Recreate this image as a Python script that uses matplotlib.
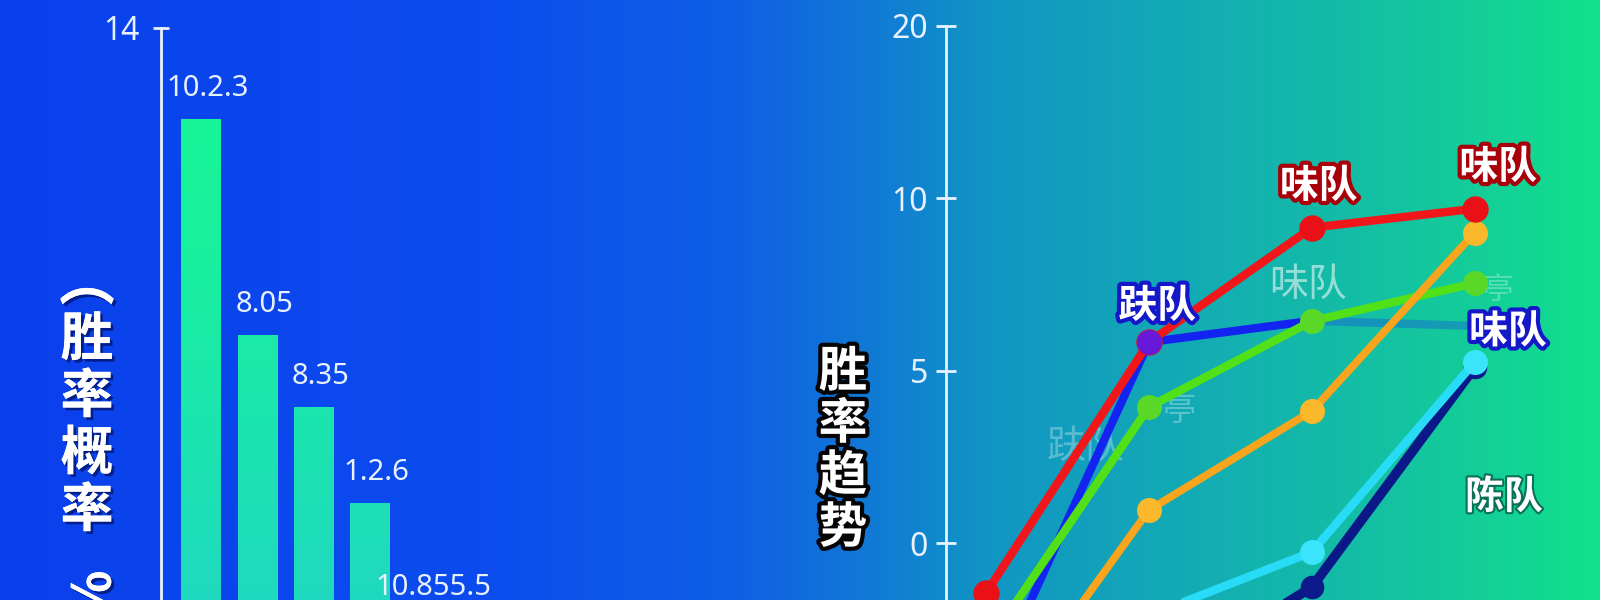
import numpy as np
import matplotlib
matplotlib.use("Agg")
import matplotlib.pyplot as plt
import matplotlib.patheffects as pe
from matplotlib.colors import LinearSegmentedColormap

plt.rcParams['font.family'] = ['Noto Sans CJK SC', 'DejaVu Sans']

# ---- data: left panel (bars) ----
bar_values = [12.1, 7.6, 6.1, 4.1, 1.7]
bar_labels = ['10.2.3', '8.05', '8.35', '1.2.6', '10.855.5']
left_ticks = [14]
left_title = ['胜', '率', '概', '率']

# ---- data: right panel (lines) ----
rounds = [0, 1, 2, 3]
red = [-1.45, 5.83, 9.15, 9.7]
blue = [-4.5, 5.83, 6.45, 6.3]
green = [-3.0, 3.95, 6.44, 7.54]
orange = [-5.6, 0.96, 3.83, 9.0]
cyan = [-5.5, -2.1, -0.26, 5.25]
navy = [-5.8, -4.2, -1.28, 5.1]
right_ticks = [0, 5, 10, 15]
right_ticklabels = ['0', '5', '10', '20']
right_title = ['胜', '率', '趋', '势']

W, H = 1600, 600
fig = plt.figure(figsize=(W / 100, H / 100), dpi=100)

# background gradient
bg = fig.add_axes([0, 0, 1, 1], zorder=-10)
bg_cmap = LinearSegmentedColormap.from_list('bg', [
    (0.0, '#0a40ec'), (0.30, '#0c4cee'), (0.46, '#1060e6'),
    (0.54, '#1078d6'), (0.62, '#1196c4'), (0.75, '#13acb4'),
    (0.88, '#14c4a0'), (1.0, '#12e08c')])
bg.imshow(np.linspace(0, 1, 512).reshape(1, -1), cmap=bg_cmap,
          aspect='auto', extent=[0, 1, 0, 1])
bg.set_axis_off()

white = '#e8f2ff'

# ================= left: bars =================
ax1 = fig.add_axes([161 / W, (H - 700) / H, (760 - 161) / W, (700 - 27.5) / H])
ax1.set_facecolor('none')
x1 = np.arange(len(bar_values))
bars = ax1.bar(x1, bar_values, width=0.7, color='#1ce8a8', zorder=2)
bar_cmap = LinearSegmentedColormap.from_list('bar', ['#22d2c8', '#1de2b4', '#18f09e', '#16f892'])
for b in bars:
    im = ax1.imshow(np.linspace(0, 1, 256).reshape(-1, 1), cmap=bar_cmap,
                    extent=[b.get_x(), b.get_x() + b.get_width(), 0, 14],
                    origin='lower', aspect='auto', zorder=3)
    im.set_clip_path(b)
for i, (v, lab) in enumerate(zip(bar_values, bar_labels)):
    ax1.annotate(lab, xy=(i, v), xytext=(5, 22), textcoords='offset points',
                 ha='center', va='center', color=white, fontsize=21,
                 family=['Noto Sans', 'DejaVu Sans'])
ax1.set_xlim(-0.71, 9.93)
ax1.set_ylim(0, 14)
ax1.set_yticks(left_ticks)
ax1.set_xticks([])
for s in ['top', 'right', 'bottom']:
    ax1.spines[s].set_visible(False)
ax1.spines['left'].set_color(white)
ax1.spines['left'].set_linewidth(2)
ax1.tick_params(axis='y', direction='inout', length=11, width=2, colors=white,
                labelsize=23, pad=10)
for t in ax1.get_yticklabels():
    t.set_family(['Noto Sans', 'DejaVu Sans'])

shadow = [pe.withSimplePatchShadow(offset=(2, -2), shadow_rgbFace='#021060', alpha=0.7),
          pe.Normal()]
fig.text(87 / W, 1 - 284 / H, '︵', ha='center', va='center',
         color='white', fontsize=40, fontweight='bold', path_effects=shadow)
for k, ch in enumerate(left_title):
    fig.text(87 / W, 1 - (340 + 57 * k) / H, ch, ha='center', va='center',
             color='white', fontsize=38, fontweight='bold', path_effects=shadow)
fig.text(87 / W, 1 - 596 / H, '%', rotation=270, ha='center', va='center',
         color='white', fontsize=38, fontweight='bold', path_effects=shadow)

# ================= right: lines =================
ax2 = fig.add_axes([946 / W, (H - 750) / H, (W - 946) / W, (750 - 26) / H])
ax2.set_facecolor('none')

ax2.plot(rounds[2:], blue[2:], color='#1a2ef0', lw=6, alpha=0.3, zorder=2,
         solid_capstyle='round')
ax2.plot(rounds[:3], blue[:3], color='#1424f0', lw=6, zorder=3)
ax2.plot(rounds, navy, color='#0a1888', lw=7, marker='o', ms=17,
         markerfacecolor='#0c1a8c', markeredgewidth=0, zorder=4)
ax2.plot(rounds, cyan, color='#28dcf8', lw=6, marker='o', ms=18,
         markerfacecolor='#3ae4fa', markeredgewidth=0, zorder=5)
ax2.plot(rounds, green, color='#52e018', lw=6, marker='o', ms=18,
         markerfacecolor='#5ad828', markeredgewidth=0, zorder=6)
ax2.plot(rounds, orange, color='#f8a41c', lw=5.5, marker='o', ms=18,
         markerfacecolor='#fbb82a', markeredgewidth=0, zorder=7)
ax2.plot(rounds, red, color='#f0161a', lw=6, marker='o', ms=19,
         markerfacecolor='#ea1018', markeredgewidth=0, zorder=8)
ax2.plot(rounds[1], blue[1], marker='o', ms=18, color='#6818d8',
         markeredgewidth=0, zorder=9)

red_fx = [pe.withStroke(linewidth=6, foreground='#a8000a')]
blue_fx = [pe.withStroke(linewidth=6, foreground='#1418c8')]
white_fx = [pe.withStroke(linewidth=3, foreground='#0a7058')]
ax2.annotate('味队', xy=(rounds[2], red[2]), xytext=(5, 30), textcoords='offset points',
             ha='center', va='center', color='white', fontsize=28, fontweight='bold',
             path_effects=red_fx, zorder=10)
ax2.annotate('味队', xy=(rounds[3], red[3]), xytext=(17, 30), textcoords='offset points',
             ha='center', va='center', color='white', fontsize=28, fontweight='bold',
             path_effects=red_fx, zorder=10)
ax2.annotate('趺队', xy=(rounds[1], blue[1]), xytext=(6, 26), textcoords='offset points',
             ha='center', va='center', color='white', fontsize=28, fontweight='bold',
             path_effects=blue_fx, zorder=10)
ax2.annotate('味队', xy=(rounds[3], cyan[3]), xytext=(24, 22), textcoords='offset points',
             ha='center', va='center', color='white', fontsize=28, fontweight='bold',
             path_effects=blue_fx, zorder=10)
ax2.text(3.18, 1.33, '陈队', ha='center', va='center', color='white', fontsize=28,
         fontweight='bold', path_effects=white_fx, zorder=10)
ax2.text(1.98, 7.48, '味队', ha='center', va='center', color='white', fontsize=28,
         alpha=0.55, zorder=1)
ax2.text(0.61, 2.79, '趺队', ha='center', va='center', color='white', fontsize=28,
         alpha=0.3, zorder=1)
ax2.text(1.19, 3.86, '亭', ha='center', va='center', color='white', fontsize=24,
         alpha=0.3, zorder=1)
ax2.text(3.14, 7.34, '亭', ha='center', va='center', color='white', fontsize=22,
         alpha=0.3, zorder=1)

ax2.set_xlim(-0.246, 3.77)
ax2.set_ylim(-6, 15)
ax2.set_yticks(right_ticks)
ax2.set_yticklabels(right_ticklabels)
ax2.set_xticks([])
for s in ['top', 'right', 'bottom']:
    ax2.spines[s].set_visible(False)
ax2.spines['left'].set_color(white)
ax2.spines['left'].set_linewidth(2)
ax2.tick_params(axis='y', direction='inout', length=14, width=2, colors=white,
                labelsize=23, pad=6)
for t in ax2.get_yticklabels():
    t.set_family(['Noto Sans', 'DejaVu Sans'])

black_fx = [pe.withStroke(linewidth=6, foreground='#050505')]
for k, ch in enumerate(right_title):
    fig.text(843 / W, 1 - (372 + 52 * k) / H, ch, ha='center', va='center',
             color='white', fontsize=35, fontweight='bold', path_effects=black_fx)

fig.savefig('out.png', dpi=100)
